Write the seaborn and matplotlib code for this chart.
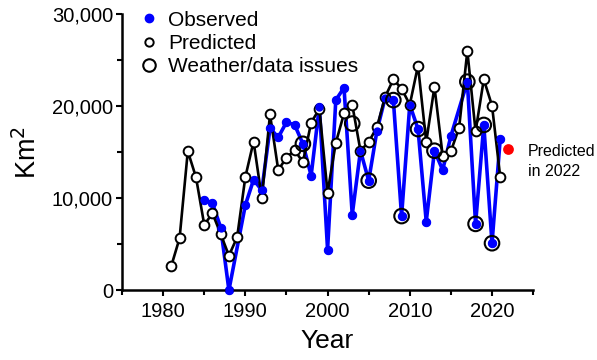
import matplotlib
matplotlib.use("Agg")
import matplotlib.pyplot as plt
import seaborn as sns
import pandas as pd
from matplotlib.lines import Line2D
from matplotlib.ticker import FuncFormatter, MultipleLocator

# ---------------- data ----------------
pred_years = list(range(1981, 2022))
pred_vals = [2650, 5650, 15100, 12250, 7100, 8350, 6100, 3750, 5750, 12300,
             16150, 10000, 19100, 13050, 14400, 15200, 13900, 18200, 19700, 10600,
             16000, 19200, 20150, 15150, 16100, 17700, 21000, 22900, 21900, 20150,
             24400, 16100, 22100, 14600, 15100, 17650, 26000, 17250, 22900, 20050,
             12300]

obs_years = [1985, 1986, 1987, 1988, 1990, 1991, 1992, 1993, 1994, 1995, 1996,
             1997, 1998, 1999, 2000, 2001, 2002, 2003, 2004, 2005, 2006, 2007,
             2008, 2009, 2010, 2011, 2012, 2013, 2014, 2015, 2017, 2018, 2019,
             2020, 2021]
obs_vals = [9850, 9450, 6800, 0, 9250, 12000, 10850, 17600, 16600, 18250, 17950,
            15900, 12450, 19950, 4400, 20650, 22000, 8200, 15150, 11900, 17300, 20900,
            20650, 8050, 20150, 17500, 7450, 15150, 13050, 16750, 22650, 7200, 17950,
            5100, 16450]

issue_years = [1997, 2003, 2005, 2008, 2009, 2011, 2013, 2017, 2018, 2019, 2020]
issue_vals = [15900, 18100, 11900, 20650, 8050, 17500, 15150, 22650, 7200, 17950, 5100]

future_year = [2022]
future_val = [15300]

legend_labels = ["Observed", "Predicted", "Weather/data issues"]
note_text = "Predicted\nin 2022"

# ---------------- style ----------------
sns.set_style("ticks")
plt.rcParams["font.family"] = ["Liberation Sans", "DejaVu Sans"]
plt.rcParams["text.color"] = "black"
plt.rcParams["axes.labelcolor"] = "black"
plt.rcParams["xtick.color"] = "black"
plt.rcParams["ytick.color"] = "black"

BLUE = "#0000ff"
fig = plt.figure(figsize=(5.97, 3.6), dpi=100)
ax = fig.add_axes([0.2044, 0.194, 0.6886, 0.767])

obs_df = pd.DataFrame({"year": obs_years, "val": obs_vals})
pred_df = pd.DataFrame({"year": pred_years, "val": pred_vals})
iss_df = pd.DataFrame({"year": issue_years, "val": issue_vals})
fut_df = pd.DataFrame({"year": future_year, "val": future_val})

# observed line
sns.lineplot(data=obs_df, x="year", y="val", ax=ax, color=BLUE, lw=2.6,
             marker="o", markersize=6, markeredgecolor=BLUE, zorder=2,
             clip_on=False)
# predicted line with white filled circles
sns.lineplot(data=pred_df, x="year", y="val", ax=ax, color="black", lw=1.9,
             marker="o", markersize=7, markerfacecolor="white",
             markeredgecolor="black", markeredgewidth=1.4, zorder=3,
             clip_on=False)
# observed dots on top
sns.scatterplot(data=obs_df, x="year", y="val", ax=ax, color=BLUE, s=36,
                edgecolor=BLUE, linewidth=0, zorder=4, clip_on=False)
# weather / data issues
sns.scatterplot(data=iss_df, x="year", y="val", ax=ax, s=110,
                facecolor="none", edgecolor="black", linewidth=1.5, zorder=5,
                clip_on=False)
# predicted 2022
sns.scatterplot(data=fut_df, x="year", y="val", ax=ax, color="#ff0000", s=60,
                edgecolor="#ff0000", linewidth=0, zorder=5, clip_on=False)

ax.text(2024.4, 14000, note_text, fontsize=11.5, va="center",
        ha="left", linespacing=1.45, clip_on=False)

# ---------------- axes ----------------
ax.set_xlim(1975, 2025)
ax.set_ylim(0, 30000)
ax.xaxis.set_major_locator(MultipleLocator(10))
ax.xaxis.set_minor_locator(MultipleLocator(5))
ax.yaxis.set_major_locator(MultipleLocator(10000))
ax.yaxis.set_minor_locator(MultipleLocator(5000))
ax.yaxis.set_major_formatter(FuncFormatter(lambda v, p: f"{int(v):,}"))
ax.set_xticks([1980, 1990, 2000, 2010, 2020])

for s in ["top", "right"]:
    ax.spines[s].set_visible(False)
for s in ["left", "bottom"]:
    ax.spines[s].set_linewidth(1.8)
    ax.spines[s].set_color("black")

ax.tick_params(axis="both", which="major", length=4.5, width=1.5,
               colors="black", labelsize=14.5)
ax.tick_params(axis="x", which="major", pad=4)
ax.tick_params(axis="y", which="major", pad=2)
ax.tick_params(axis="both", which="minor", length=3.5, width=1.5)

ax.set_xlabel("Year", fontsize=19, labelpad=6)
ax.set_ylabel("Km$^2$", fontsize=19.5, labelpad=7)

# ---------------- legend ----------------
handles = [
    Line2D([], [], ls="none", marker="o", ms=6, mfc=BLUE, mec=BLUE),
    Line2D([], [], ls="none", marker="o", ms=6, mfc="white", mec="black", mew=1.4),
    Line2D([], [], ls="none", marker="o", ms=9, mfc="white", mec="black", mew=1.5),
]
leg = ax.legend(handles, legend_labels, loc="upper left",
                bbox_to_anchor=(0.0, 1.065), frameon=False, fontsize=15,
                handletextpad=0.3, labelspacing=0.2, handlelength=1.2,
                borderaxespad=0.3)

fig.savefig("out.png", dpi=100)
